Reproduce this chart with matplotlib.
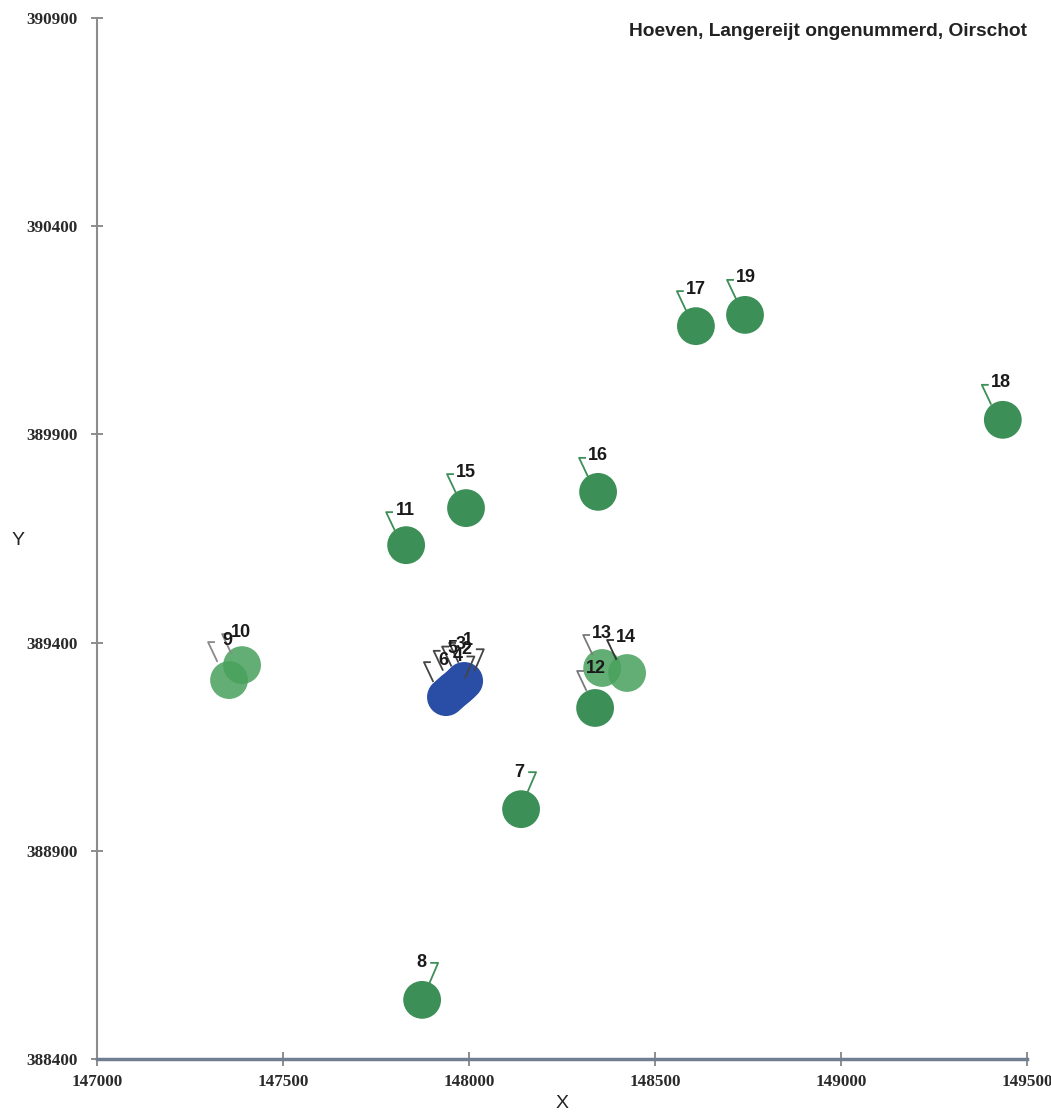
import matplotlib
matplotlib.use("Agg")
import matplotlib.pyplot as plt
import matplotlib.transforms as mtransforms
from matplotlib.lines import Line2D

# ---- data ----
labels = ["1", "2", "3", "4", "5", "6", "7", "8", "9", "10",
          "11", "12", "13", "14", "15", "16", "17", "18", "19"]
x_vals = [147987, 147978, 147968, 147958, 147948, 147938, 148140, 147874, 147355, 147390,
          147831, 148339, 148358, 148425, 147992, 148347, 148610, 149435, 148742]
y_vals = [389308, 389300, 389292, 389285, 389277, 389269, 389000, 388542, 389310, 389346,
          389634, 389243, 389339, 389327, 389723, 389762, 390160, 389935, 390187]
groups = ["blue"] * 6 + ["green", "green", "light", "light",
                         "green", "green", "light", "light", "green", "green", "green", "green", "green"]
x_ticks = [147000, 147500, 148000, 148500, 149000, 149500]
y_ticks = [388400, 388900, 389400, 389900, 390400, 390900]
title = "Hoeven, Langereijt ongenummerd, Oirschot"

# ---- styling ----
fill = {"blue": "#2a4ea6", "green": "#3b8f57", "light": "#48a05c"}
alpha = {"blue": 1.0, "green": 1.0, "light": 0.85}
# label text offsets (pixels, +y up) and leader style
text_off = {"1": (4, 40), "2": (6, 35), "3": (4, 43), "4": (4, 34), "5": (3, 45), "6": (-3, 37),
            "7": (-2, 37), "8": (-1, 37), "9": (-2, 40), "10": (-1, 33), "11": (-1, 35),
            "12": (1, 39), "13": (0, 35), "14": (-1, 35), "15": (0, 36), "16": (0, 36),
            "17": (0, 37), "18": (-2, 37), "19": (1, 37)}
right_leader = {"7", "8", "4", "2"}
leader_col = {"9": "#8a8a8a", "10": "#8a8a8a", "12": "#7a7a7a", "13": "#7a7a7a",
              "14": "#333333", "7": "#3b8f57", "1": "#444444", "2": "#444444",
              "3": "#444444", "4": "#444444", "5": "#444444", "6": "#444444"}

W, H, DPI = 1051, 1115, 100
fig = plt.figure(figsize=(W / DPI, H / DPI), dpi=DPI)
fig.patch.set_facecolor("white")
ax = fig.add_axes([97 / W, 56 / H, 930 / W, 1041 / H])
ax.set_xlim(x_ticks[0], x_ticks[-1])
ax.set_ylim(y_ticks[0], y_ticks[-1])

for i, lab in enumerate(labels):
    g = groups[i]
    ax.scatter(x_vals[i], y_vals[i], s=740, color=fill[g], alpha=alpha[g],
               edgecolors="none", zorder=3)

for i, lab in enumerate(labels):
    tr = mtransforms.ScaledTranslation(x_vals[i], y_vals[i], ax.transData)
    dx, dy = text_off[lab]
    col = leader_col.get(lab, "#3b8f57")
    if lab in right_leader:
        xs = [dx + 10, dx + 17, dx + 8]
        ys = [dy, dy, dy - 21]
    else:
        xs = [dx - 13, dx - 19, dx - 10]
        ys = [dy - 2, dy - 2, dy - 21]
    ax.add_line(Line2D(xs, ys, transform=tr, color=col, lw=1.3, zorder=4, clip_on=False))
    ax.text(dx, dy, lab, transform=tr, ha="center", va="center", fontsize=13,
            fontweight="bold", family=["Liberation Sans", "DejaVu Sans"], color="#1a1a1a",
            zorder=5)

for s in ["top", "right"]:
    ax.spines[s].set_visible(False)
ax.spines["left"].set_color("#8c8c8c")
ax.spines["left"].set_linewidth(1.5)
ax.spines["bottom"].set_color("#6f7f90")
ax.spines["bottom"].set_linewidth(2.5)
ax.set_xticks(x_ticks)
ax.set_yticks(y_ticks)
ax.set_xticklabels([str(v) for v in x_ticks])
ax.set_yticklabels([str(v) for v in y_ticks])
ax.tick_params(axis="y", direction="inout", length=8, width=1.2, color="#7a7a7a", pad=10)
ax.tick_params(axis="x", direction="inout", length=10, width=1.2, color="#7a7a7a", pad=6)
for t in ax.get_xticklabels() + ax.get_yticklabels():
    t.set_family(["Liberation Serif", "DejaVu Serif"])
    t.set_fontweight("bold")
    t.set_fontsize(12.3)
    t.set_color("#2a2a2a")

fig.text(18 / W, 1 - 540 / H, "Y", ha="center", va="center", fontsize=14,
         family=["Liberation Sans", "DejaVu Sans"], color="#222222")
fig.text(562 / W, 1 - 1103 / H, "X", ha="center", va="center", fontsize=14,
         family=["Liberation Sans", "DejaVu Sans"], color="#222222")
fig.text(1027 / W, 1 - 32 / H, title, ha="right", va="center", fontsize=13.8,
         fontweight="bold", family=["Liberation Sans", "DejaVu Sans"], color="#222222")

fig.savefig("out.png", dpi=DPI, facecolor="white")
